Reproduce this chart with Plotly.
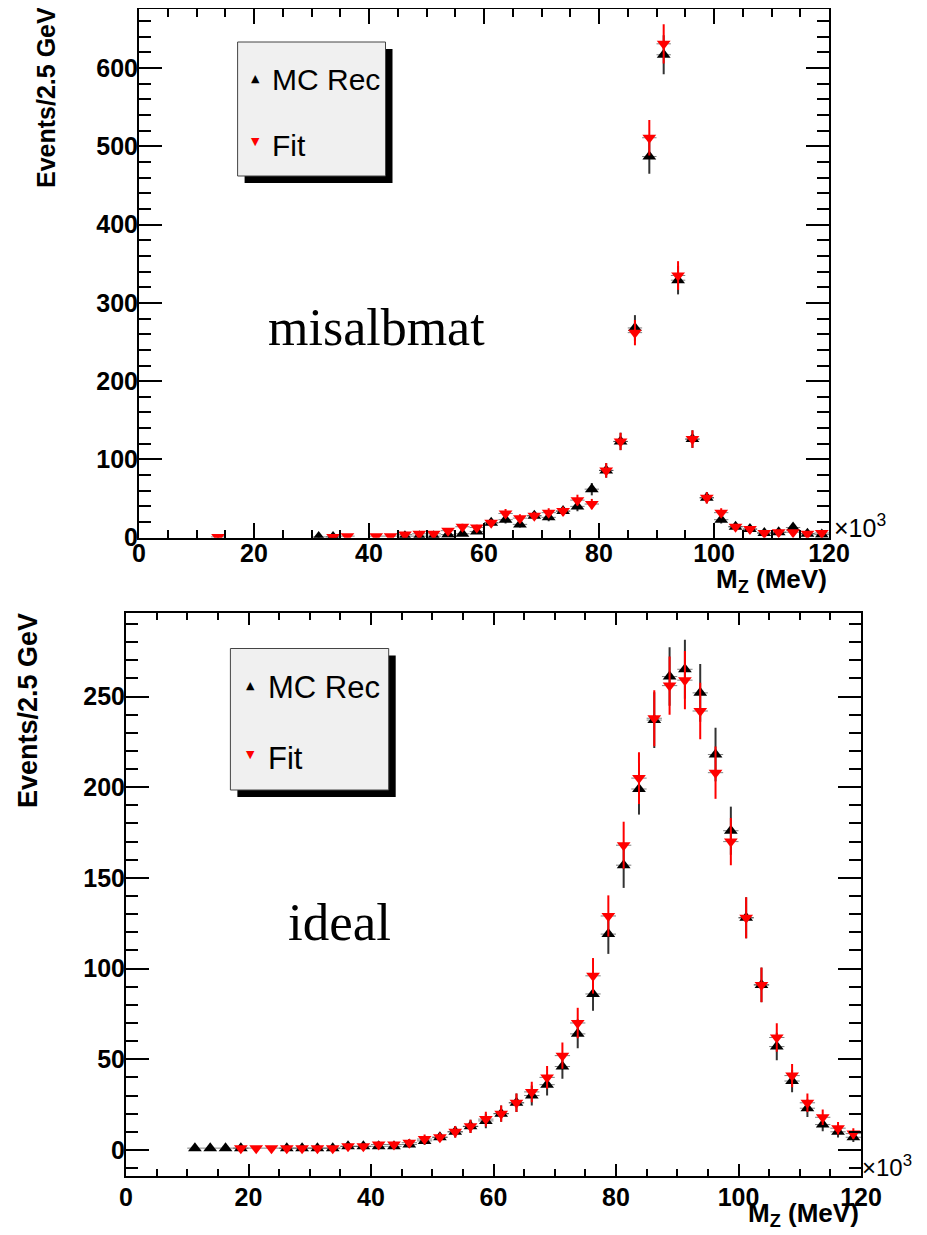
import numpy as np
import plotly.graph_objects as go

# The page body keeps the browser's default 8 px margin, so the figure is made
# 16 px smaller than the 927x1235 window and all reference pixel positions are
# shifted by that margin.
PAGE_MARGIN = 8
W, H = 927 - 2 * PAGE_MARGIN, 1235 - 2 * PAGE_MARGIN

# ---------------- data (bin centres in GeV, counts per 2.5 GeV) ----------------
# top panel: "misalbmat"
mis_rec_x = [31.25, 33.75, 46.25, 48.75, 51.25, 53.75, 56.25, 58.75, 61.25, 63.75,
             66.25, 68.75, 71.25, 73.75, 76.25, 78.75, 81.25, 83.75, 86.25, 88.75,
             91.25, 93.75, 96.25, 98.75, 101.25, 103.75, 106.25, 108.75, 111.25,
             113.75, 116.25, 118.75]
mis_rec_y = [1, 1, 2, 2, 2, 4, 5, 8, 19, 23,
             17, 28, 26, 34, 40, 62, 86, 123, 268, 487,
             617, 329, 126, 51, 23, 14, 11, 6, 7,
             13, 5, 4]
mis_fit_x = [13.75, 33.75, 36.25, 41.25, 43.75, 46.25, 48.75, 51.25, 53.75, 56.25,
             58.75, 61.25, 63.75, 66.25, 68.75, 71.25, 73.75, 76.25, 78.75, 81.25,
             83.75, 86.25, 88.75, 91.25, 93.75, 96.25, 98.75, 101.25, 103.75,
             106.25, 108.75, 111.25, 113.75, 116.25, 118.75]
mis_fit_y = [1, 1, 2, 2, 2, 4, 5, 5, 9, 14,
             13, 19, 31, 25, 28, 32, 34, 48, 43, 86,
             123, 262, 511, 631, 335, 126, 51, 32, 14,
             11, 6, 7, 7, 5, 6]

# bottom panel: "ideal"
ide_rec_x = [11.25, 13.75, 16.25, 18.75, 26.25, 28.75, 31.25, 33.75, 36.25, 38.75,
             41.25, 43.75, 46.25, 48.75, 51.25, 53.75, 56.25, 58.75, 61.25, 63.75,
             66.25, 68.75, 71.25, 73.75, 76.25, 78.75, 81.25, 83.75, 86.25, 88.75,
             91.25, 93.75, 96.25, 98.75, 101.25, 103.75, 106.25, 108.75, 111.25,
             113.75, 116.25, 118.75]
ide_rec_y = [1, 1, 1, 1, 1, 1, 1, 1, 2, 2,
             2, 2, 3, 5, 7, 10, 13, 16, 20, 26,
             30, 36, 46, 64, 86, 119, 157, 199, 237, 261,
             265, 252, 218, 176, 128, 91, 57, 38, 23,
             14, 10, 7]
ide_fit_x = [18.75, 21.25, 23.75, 26.25, 28.75, 31.25, 33.75, 36.25, 38.75, 41.25,
             43.75, 46.25, 48.75, 51.25, 53.75, 56.25, 58.75, 61.25, 63.75, 66.25,
             68.75, 71.25, 73.75, 76.25, 78.75, 81.25, 83.75, 86.25, 88.75, 91.25,
             93.75, 96.25, 98.75, 101.25, 103.75, 106.25, 108.75, 111.25, 113.75,
             116.25, 118.75]
ide_fit_y = [1, 1, 1, 1, 1, 1, 1, 2, 2, 3,
             3, 4, 6, 7, 10, 13, 17, 20, 26, 32,
             40, 52, 70, 96, 129, 168, 205, 238, 256, 259,
             242, 208, 170, 128, 91, 62, 41, 26, 18,
             12, 9]

bin_half = 1.25
x_ticks = [0, 20, 40, 60, 80, 100, 120]
top_yticks = [0, 100, 200, 300, 400, 500, 600]
bot_yticks = [0, 50, 100, 150, 200, 250]

# ---------------- geometry (reference window pixels) ----------------
def px(x):
    return (x - PAGE_MARGIN) / W

def py(y):
    return 1 - (y - PAGE_MARGIN) / H

TOP = dict(l=139, r=829, t=8.6, b=537.7, yr=[0, 676])
BOT = dict(l=126, r=861, t=612.7, b=1175.7, yr=[-14.2, 296.2])

FONT = "Liberation Sans"
fig = go.Figure()


def add_series(x, y, sym, col, ecol, xa, ya, name):
    err = np.sqrt(np.array(y, dtype=float))
    fig.add_trace(go.Scatter(
        x=x, y=y, mode="markers", name=name, showlegend=False,
        xaxis=xa, yaxis=ya,
        marker=dict(symbol=sym, size=12, color=col, line=dict(width=0)),
        error_y=dict(type="data", array=err, color=ecol, thickness=2, width=0),
        error_x=dict(type="constant", value=bin_half, color="rgba(0,0,0,0.5)",
                     thickness=1, width=0),
    ))


add_series(mis_rec_x, mis_rec_y, "triangle-up", "black", "#333333", "x", "y", "MC Rec")
add_series(mis_fit_x, mis_fit_y, "triangle-down", "#ff0000", "#ff0000", "x", "y", "Fit")
add_series(ide_rec_x, ide_rec_y, "triangle-up", "black", "#333333", "x2", "y2", "MC Rec")
add_series(ide_fit_x, ide_fit_y, "triangle-down", "#ff0000", "#ff0000", "x2", "y2", "Fit")

tickfont = dict(family=FONT, size=25, color="black", weight="bold")


def xaxis(g, anchor, maj, mnr, standoff):
    return dict(domain=[px(g["l"]), px(g["r"])], anchor=anchor, range=[0, 120],
                tickvals=x_ticks, ticktext=[str(v) for v in x_ticks],
                ticks="inside", ticklen=maj, tickwidth=1.5, tickcolor="black",
                minor=dict(dtick=5, tick0=0, ticks="inside", ticklen=mnr,
                           tickwidth=1.5, tickcolor="black"),
                showline=True, linecolor="black", linewidth=2, mirror="ticks",
                showgrid=False, zeroline=False, tickfont=tickfont,
                ticklabelstandoff=standoff, fixedrange=True, automargin=False)


def yaxis(g, anchor, vals, mdt, standoff):
    return dict(domain=[py(g["b"]), py(g["t"])], anchor=anchor, range=g["yr"],
                tickvals=vals, ticktext=[str(v) for v in vals],
                ticks="inside", ticklen=23, tickwidth=1.5, tickcolor="black",
                minor=dict(dtick=mdt, tick0=0, ticks="inside", ticklen=12,
                           tickwidth=1.5, tickcolor="black"),
                showline=True, linecolor="black", linewidth=2, mirror="ticks",
                showgrid=False, zeroline=False, tickfont=tickfont,
                ticklabelstandoff=standoff, fixedrange=True, automargin=False)


fig.update_layout(
    width=W, height=H, autosize=False,
    margin=dict(l=0, r=0, t=0, b=0, pad=0, autoexpand=False),
    paper_bgcolor="white", plot_bgcolor="white",
    showlegend=False,
    xaxis=xaxis(TOP, "y", 15, 8, -8),
    yaxis=yaxis(TOP, "x", top_yticks, 20, -6),
    xaxis2=xaxis(BOT, "y2", 12, 7, -2),
    yaxis2=yaxis(BOT, "x2", bot_yticks, 10, -6),
)

shapes = []
ann = []


def legend(x0, y0, x1, y1, tri_x, rec_y, fit_y, txt_x, fsize):
    shapes.append(dict(type="rect", xref="paper", yref="paper",
                       x0=px(x0 + 7), x1=px(x1 + 7), y0=py(y1 + 7), y1=py(y0 + 7),
                       fillcolor="black", line=dict(width=0), layer="above"))
    shapes.append(dict(type="rect", xref="paper", yref="paper",
                       x0=px(x0), x1=px(x1), y0=py(y1), y1=py(y0),
                       fillcolor="#f0f0f0", line=dict(color="#444444", width=1),
                       layer="above"))
    ann.append(dict(x=px(tri_x), y=py(rec_y - 2), text="▲", showarrow=False,
                    xref="paper", yref="paper", xanchor="center", yanchor="middle",
                    font=dict(family="DejaVu Sans", size=11, color="black")))
    ann.append(dict(x=px(tri_x), y=py(fit_y - 4), text="▼", showarrow=False,
                    xref="paper", yref="paper", xanchor="center", yanchor="middle",
                    font=dict(family="DejaVu Sans", size=11, color="#ff0000")))
    ann.append(dict(x=px(txt_x), y=py(rec_y), text="MC Rec", showarrow=False,
                    xref="paper", yref="paper", xanchor="left", yanchor="middle",
                    font=dict(family=FONT, size=fsize, color="black")))
    ann.append(dict(x=px(txt_x), y=py(fit_y), text="Fit", showarrow=False,
                    xref="paper", yref="paper", xanchor="left", yanchor="middle",
                    font=dict(family=FONT, size=fsize, color="black")))


legend(237.6, 42, 385.5, 176, 256, 80, 146, 270, 30)
legend(230.4, 648.5, 388.7, 790, 250, 687, 758, 266, 31)

# labels inside plots
ann.append(dict(x=px(376.5), y=py(327), text="misalbmat", showarrow=False,
                xref="paper", yref="paper", xanchor="center", yanchor="middle",
                font=dict(family="Liberation Serif", size=52, color="black")))
ann.append(dict(x=px(339.5), y=py(922), text="ideal", showarrow=False,
                xref="paper", yref="paper", xanchor="center", yanchor="middle",
                font=dict(family="Liberation Serif", size=53, color="black")))

titlefont = dict(family=FONT, size=26, color="black", weight="bold")
# y titles
ann.append(dict(x=px(46), y=py(98), text="Events/2.5 GeV", textangle=-90,
                showarrow=False, xref="paper", yref="paper",
                xanchor="center", yanchor="middle",
                font=dict(family=FONT, size=25, color="black", weight="bold")))
ann.append(dict(x=px(28), y=py(711), text="Events/2.5 GeV", textangle=-90,
                showarrow=False, xref="paper", yref="paper",
                xanchor="center", yanchor="middle",
                font=dict(family=FONT, size=27, color="black", weight="bold")))
# x titles
ann.append(dict(x=px(829), y=py(580), text="M<sub>Z</sub> (MeV)", showarrow=False,
                xref="paper", yref="paper", xanchor="right", yanchor="middle",
                font=titlefont))
ann.append(dict(x=px(861), y=py(1214), text="M<sub>Z</sub> (MeV)", showarrow=False,
                xref="paper", yref="paper", xanchor="right", yanchor="middle",
                font=titlefont))
# x10^3
ann.append(dict(x=px(832), y=py(526), text="×10<sup>3</sup>", showarrow=False,
                xref="paper", yref="paper", xanchor="left", yanchor="middle",
                font=dict(family=FONT, size=25, color="black")))
ann.append(dict(x=px(860), y=py(1166), text="×10<sup>3</sup>", showarrow=False,
                xref="paper", yref="paper", xanchor="left", yanchor="middle",
                font=dict(family=FONT, size=24, color="black")))

fig.update_layout(shapes=shapes, annotations=ann)
fig.write_html("out.html", config={"displayModeBar": False})
